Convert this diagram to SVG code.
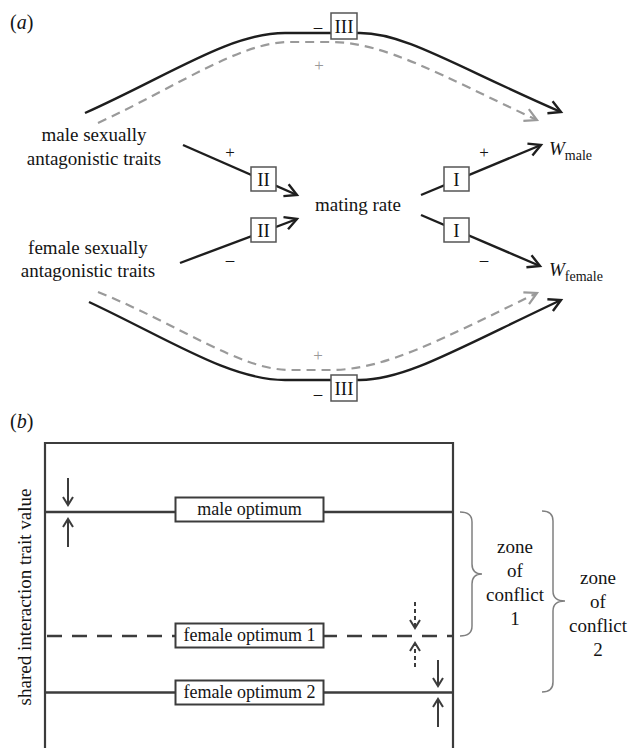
<svg xmlns="http://www.w3.org/2000/svg" width="632" height="748" viewBox="0 0 632 748">
<defs>
<style>
text { font-family: "Liberation Serif", "Times New Roman", serif; fill: #141414; }
.lbl { font-size: 19px; text-anchor: middle; }
.box { fill: #fff; stroke: #555; stroke-width: 1.5; }
.conn { fill: none; stroke: #1e1e1e; stroke-width: 2.4; }
.dash { fill: none; stroke: #9a9a9a; stroke-width: 2.2; stroke-dasharray: 9 6; }
.sign { font-size: 17px; text-anchor: middle; }
.gsign { fill: #999; }
.frame { fill: none; stroke: #3c3c3c; stroke-width: 2.2; }
.opt { fill: none; stroke: #3c3c3c; stroke-width: 2.6; }
.optd { fill: none; stroke: #3c3c3c; stroke-width: 2.6; stroke-dasharray: 15 10; }
.obox { fill: #fff; stroke: #3c3c3c; stroke-width: 2; }
.olbl { font-size: 18px; text-anchor: middle; }
.brace { fill: none; stroke: #808080; stroke-width: 1.5; }
.small { fill: none; stroke: #3c3c3c; stroke-width: 2; }
.smalld { fill: none; stroke: #3c3c3c; stroke-width: 2; stroke-dasharray: 4 3; }
</style>
<marker id="ahB" markerUnits="userSpaceOnUse" viewBox="-16 -10 20 20" markerWidth="20" markerHeight="20" refX="0" refY="0" orient="auto">
<path d="M-12,-6.5 L0,0 L-12,6.5" fill="none" stroke="#1e1e1e" stroke-width="2.4"/>
</marker>
<marker id="ahG" markerUnits="userSpaceOnUse" viewBox="-16 -10 20 20" markerWidth="20" markerHeight="20" refX="0" refY="0" orient="auto">
<path d="M-12,-6.5 L0,0 L-12,6.5" fill="none" stroke="#9a9a9a" stroke-width="2.2"/>
</marker>
<marker id="ahS" markerUnits="userSpaceOnUse" viewBox="-12 -8 16 16" markerWidth="16" markerHeight="16" refX="0" refY="0" orient="auto">
<path d="M-8,-5 L0,0 L-8,5" fill="none" stroke="#3c3c3c" stroke-width="2"/>
</marker>
</defs>
<rect width="632" height="748" fill="#fff"/>

<!-- Panel (a) -->
<text x="10" y="29" font-size="20">(<tspan font-style="italic">a</tspan>)</text>

<g id="connectors">
<path class="dash" d="M98,123 C180,85 240,42 290,42 L330,42 C385,42 440,75 537,120" marker-end="url(#ahG)"/>
<path class="conn" d="M85,113 C170,75 230,33 285,33 L360,33 C405,33 455,66 561,112" marker-end="url(#ahB)"/>
<path class="dash" d="M98,292 C180,325 240,370 290,370 L330,370 C385,370 440,340 537,293" marker-end="url(#ahG)"/>
<path class="conn" d="M89,302 C170,340 230,380 285,380 L360,380 C405,380 455,350 561,300" marker-end="url(#ahB)"/>
<path class="conn" d="M183,145 L297,195" marker-end="url(#ahB)"/>
<path class="conn" d="M180,263 L297,219" marker-end="url(#ahB)"/>
<path class="conn" d="M421,195 L541,145" marker-end="url(#ahB)"/>
<path class="conn" d="M421,215 L540,266" marker-end="url(#ahB)"/>
<text class="sign" x="318" y="32">–</text>
<text class="sign gsign" x="319" y="71">+</text>
<text class="sign gsign" x="318" y="361">+</text>
<text class="sign" x="318" y="399">–</text>
<text class="sign" x="230" y="158">+</text>
<text class="sign" x="230" y="265">–</text>
<text class="sign" x="484" y="158">+</text>
<text class="sign" x="484" y="265">–</text>
</g>

<g id="male-traits"><text class="lbl" x="94" y="141">male sexually</text><text class="lbl" x="94" y="165">antagonistic traits</text></g>
<g id="female-traits"><text class="lbl" x="88" y="254">female sexually</text><text class="lbl" x="88" y="277">antagonistic traits</text></g>
<g id="mating-rate"><text class="lbl" x="358" y="211">mating rate</text></g>
<g id="w-male"><text x="549" y="155" font-size="19"><tspan font-style="italic">W</tspan><tspan font-size="14" dy="5">male</tspan></text></g>
<g id="w-female"><text x="549" y="276" font-size="19"><tspan font-style="italic">W</tspan><tspan font-size="14" dy="5">female</tspan></text></g>

<g id="box-III-top"><rect class="box" x="331" y="13" width="26" height="26"/><text class="lbl" x="344" y="33">III</text></g>
<g id="box-III-bottom"><rect class="box" x="331" y="375" width="26" height="26"/><text class="lbl" x="344" y="395">III</text></g>
<g id="box-II-upper"><rect class="box" x="251" y="167" width="25" height="24"/><text class="lbl" x="263.5" y="186">II</text></g>
<g id="box-II-lower"><rect class="box" x="251" y="218" width="25" height="24"/><text class="lbl" x="263.5" y="237">II</text></g>
<g id="box-I-upper"><rect class="box" x="444" y="167" width="25" height="24"/><text class="lbl" x="456.5" y="186">I</text></g>
<g id="box-I-lower"><rect class="box" x="444" y="218" width="25" height="24"/><text class="lbl" x="456.5" y="237">I</text></g>

<!-- Panel (b) -->
<text x="10" y="428" font-size="20">(<tspan font-style="italic">b</tspan>)</text>
<path class="frame" d="M45,748 L45,443 L453,443 L453,748"/>
<text class="lbl" transform="translate(31,597) rotate(-90)">shared interaction trait value</text>

<g id="male-optimum">
<path class="opt" d="M45,512 L453,512"/>
<rect class="obox" x="175.5" y="497.5" width="148" height="24"/>
<text class="olbl" x="249.5" y="515">male optimum</text>
</g>
<g id="female-optimum-1">
<path class="optd" d="M47,636 L453,636"/>
<rect class="obox" x="175.5" y="623.5" width="148" height="24"/>
<text class="olbl" x="249.5" y="641">female optimum 1</text>
</g>
<g id="female-optimum-2">
<path class="opt" d="M45,692.5 L453,692.5"/>
<rect class="obox" x="175.5" y="680.5" width="148" height="24"/>
<text class="olbl" x="249.5" y="698">female optimum 2</text>
</g>

<g id="b-arrows">
<path class="small" d="M68,478 L68,505" marker-end="url(#ahS)"/>
<path class="small" d="M68,547 L68,519" marker-end="url(#ahS)"/>
<path class="smalld" d="M415,602 L415,628" marker-end="url(#ahS)"/>
<path class="smalld" d="M415,667 L415,643" marker-end="url(#ahS)"/>
<path class="small" d="M438,660 L438,686" marker-end="url(#ahS)"/>
<path class="small" d="M438,727 L438,699" marker-end="url(#ahS)"/>
</g>

<g id="zone-1">
<path class="brace" d="M460,512 Q472,512 472,522 L472,564 Q472,574 482,574 Q472,574 472,584 L472,626 Q472,636 460,636"/>
<text class="lbl" x="515" y="553">zone</text>
<text class="lbl" x="515" y="577">of</text>
<text class="lbl" x="515" y="601">conflict</text>
<text class="lbl" x="515" y="625">1</text>
</g>
<g id="zone-2">
<path class="brace" d="M542,511 Q553,511 553,521 L553,591 Q553,601 565,601 Q553,601 553,611 L553,682 Q553,692 542,692"/>
<text class="lbl" x="598" y="584">zone</text>
<text class="lbl" x="598" y="608">of</text>
<text class="lbl" x="598" y="632">conflict</text>
<text class="lbl" x="598" y="656">2</text>
</g>
</svg>
